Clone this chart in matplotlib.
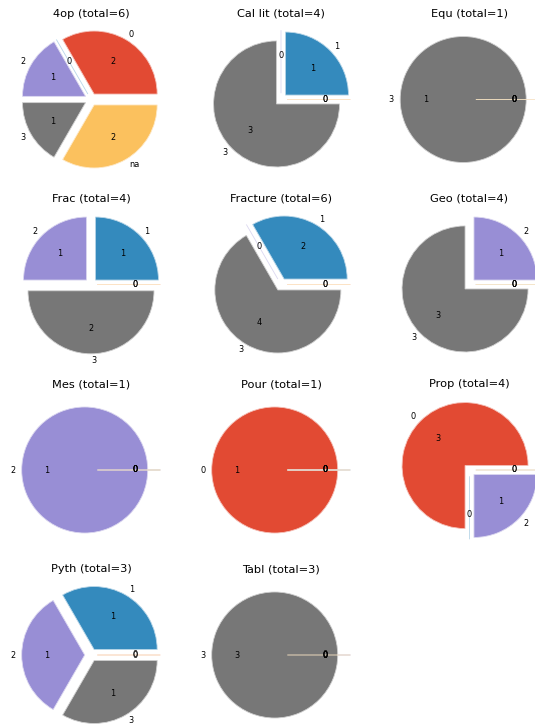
import matplotlib
matplotlib.use('Agg')
import matplotlib.pyplot as plt
from matplotlib.colors import to_rgb

plt.style.use('ggplot')

# answer codes and how many times each one occurs per topic
categories = ['0', '1', '2', '3', 'na']

topics = ['4op', 'Cal lit', 'Equ', 'Frac', 'Fracture', 'Geo',
          'Mes', 'Pour', 'Prop', 'Pyth', 'Tabl']

c_4op = [2, 0, 1, 1, 2]
c_callit = [0, 1, 0, 3, 0]
c_equ = [0, 0, 0, 1, 0]
c_frac = [0, 1, 1, 2, 0]
c_fracture = [0, 2, 0, 4, 0]
c_geo = [0, 0, 1, 3, 0]
c_mes = [0, 0, 1, 0, 0]
c_pour = [1, 0, 0, 0, 0]
c_prop = [3, 0, 1, 0, 0]
c_pyth = [0, 1, 1, 1, 0]
c_tabl = [0, 0, 0, 3, 0]

counts = [c_4op, c_callit, c_equ, c_frac, c_fracture, c_geo,
          c_mes, c_pour, c_prop, c_pyth, c_tabl]

W, H = 535, 725
fig = plt.figure(figsize=(W / 100, H / 100), dpi=100)

# pixel centres of the pies (columns / rows)
col_x = [91, 281, 469.5]
row_y = [99.5, 284.5, 470, 655]
size = 157.5  # axes box in px (radius 63 px * 2.5)


def pale(c, f=0.65):
    r, g, b = to_rgb(c)
    return (r + (1 - r) * f, g + (1 - g) * f, b + (1 - b) * f)


for i, (name, vals) in enumerate(zip(topics, counts)):
    cx = col_x[i % 3]
    cy = row_y[i // 3]
    ax = fig.add_axes([(cx - size / 2) / W, (H - cy - size / 2) / H,
                       size / W, size / H])
    total = sum(vals)
    labels = [c if v > 0 else '' for c, v in zip(categories, vals)]
    wedges, _, _ = ax.pie(vals, labels=labels, explode=[0.1] * len(vals),
                          autopct=lambda p, t=total: '%d' % round(p * t / 100.0),
                          textprops={'fontsize': 5.9})
    # zero-size wedges only show up as a thin pale line
    for w in wedges:
        w.set_edgecolor(pale(w.get_facecolor()))
        w.set_linewidth(0.6)
    ax.set_title('%s (total=%d)' % (name, total), fontsize=8.2, pad=3)

fig.savefig('out.png', dpi=100)
